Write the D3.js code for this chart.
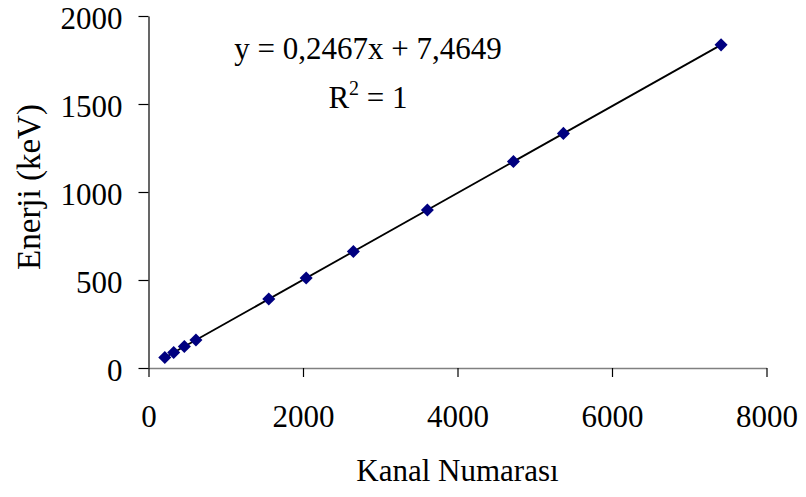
<!DOCTYPE html>
<html>
<head>
<meta charset="utf-8">
<script src="https://cdn.jsdelivr.net/npm/d3@7"></script>
<style>
  html, body { margin: 0; padding: 0; background: #fff; }
  svg { display: block; font-family: "Liberation Serif", "Times New Roman", serif; }
</style>
</head>
<body>
<svg id="chart" width="806" height="497"></svg>
<script>
// Calibration points: channel number vs. gamma energy
const channels = [211, 326, 464, 614, 1557, 2041, 2652, 3610, 4724, 5371, 7412];
const energies = [59.5, 88, 122, 159, 392, 511, 662, 898, 1173, 1333, 1836];

const xTicks = [0, 2000, 4000, 6000, 8000];
const yTicks = [0, 500, 1000, 1500, 2000];

// Linear fit shown on the chart
const slope = 0.2467;
const intercept = 7.4649;
const equationText = "y = 0,2467x + 7,4649";

const xTitle = "Kanal Numarası";
const yTitle = "Enerji (keV)";

const svg = d3.select("#chart");
const plotLeft = 148.5, plotRight = 766.5, plotTop = 16, plotBottom = 368;
const serif = "Liberation Serif, Times New Roman, serif";

const x = d3.scaleLinear().domain([0, 8000]).range([plotLeft, plotRight]);
const y = d3.scaleLinear().domain([0, 2000]).range([plotBottom, plotTop]);

// y axis
const yAxis = svg.append("g")
  .attr("transform", `translate(${plotLeft},0)`)
  .call(d3.axisLeft(y).tickValues(yTicks).tickFormat(d3.format("d"))
    .tickSize(10).tickSizeOuter(0).tickPadding(16));
yAxis.select(".domain").attr("stroke", "#000").attr("stroke-width", 1.2);
yAxis.selectAll(".tick line").attr("stroke", "#000").attr("stroke-width", 1.2);
yAxis.selectAll(".tick text")
  .attr("font-family", serif)
  .attr("font-size", 31).attr("dy", "0.4em").attr("fill", "#000");

// x axis
const xAxis = svg.append("g")
  .attr("transform", `translate(0,${plotBottom})`)
  .call(d3.axisBottom(x).tickValues(xTicks).tickFormat(d3.format("d"))
    .tickSize(9).tickSizeOuter(0).tickPadding(28));
xAxis.select(".domain").attr("stroke", "#808080").attr("stroke-width", 1.5);
xAxis.selectAll(".tick line").attr("stroke", "#000").attr("stroke-width", 1.2);
xAxis.selectAll(".tick text")
  .attr("font-family", serif)
  .attr("font-size", 31).attr("fill", "#000");

// Trend line across the data range
const xMin = d3.min(channels), xMax = d3.max(channels);
svg.append("line")
  .attr("x1", x(xMin)).attr("y1", y(slope * xMin + intercept))
  .attr("x2", x(xMax)).attr("y2", y(slope * xMax + intercept))
  .attr("stroke", "#000").attr("stroke-width", 1.8);

// Diamond markers
const diamond = d3.symbol().type(d3.symbolSquare).size(85);
svg.append("g").selectAll("path")
  .data(channels.map((c, i) => [c, energies[i]]))
  .join("path")
  .attr("d", diamond)
  .attr("transform", d => `translate(${x(d[0])},${y(d[1])}) rotate(45)`)
  .attr("fill", "#000080");

// Equation and R²
svg.append("text")
  .attr("x", 368).attr("y", 59)
  .attr("text-anchor", "middle")
  .attr("font-family", serif)
  .attr("font-size", 31)
  .text(equationText);

const r2 = svg.append("text")
  .attr("x", 368).attr("y", 108)
  .attr("text-anchor", "middle")
  .attr("font-family", serif)
  .attr("font-size", 31);
r2.append("tspan").text("R");
r2.append("tspan").attr("dy", -13).attr("font-size", 20).text("2");
r2.append("tspan").attr("dy", 13).text(" = 1");

// Axis titles
svg.append("text")
  .attr("x", (plotLeft + plotRight) / 2).attr("y", 481)
  .attr("text-anchor", "middle")
  .attr("font-family", serif)
  .attr("font-size", 31)
  .text(xTitle);

svg.append("text")
  .attr("transform", `translate(40,187) rotate(-90)`)
  .attr("text-anchor", "middle")
  .attr("font-family", serif)
  .attr("font-size", 33)
  .text(yTitle);
</script>
</body>
</html>
